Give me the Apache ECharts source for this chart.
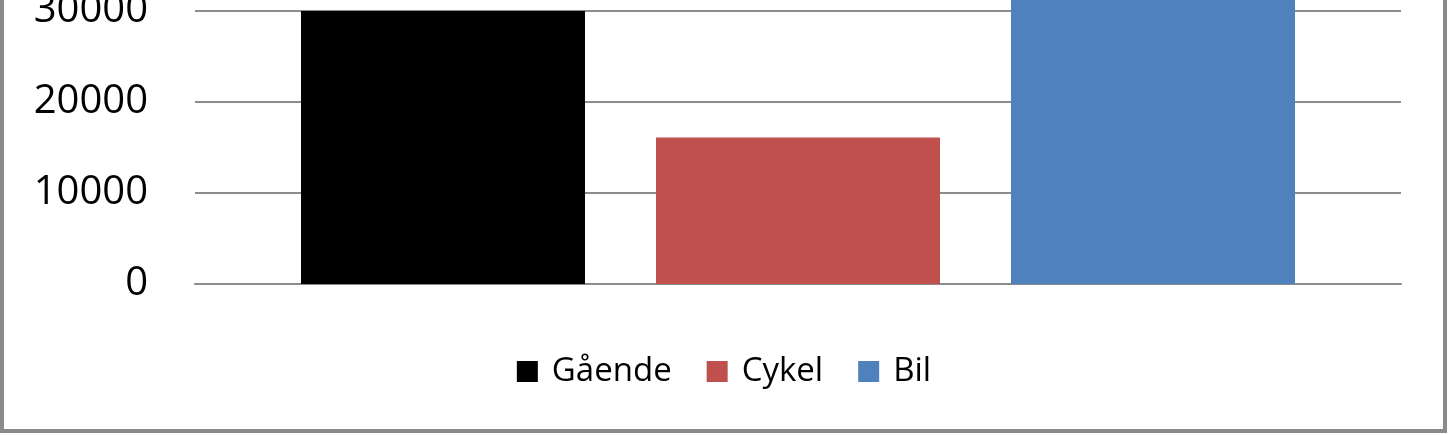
<!DOCTYPE html>
<html>
<head>
<meta charset="utf-8">
<script src="https://cdn.jsdelivr.net/npm/echarts@6/dist/echarts.min.js"></script>
<style>
  html, body { margin: 0; padding: 0; background: #ffffff; overflow: hidden; }
  #wrap { position: relative; width: 1448px; height: 435px; overflow: hidden; }
  #chart { position: absolute; left: 0; top: -100px; width: 1448px; height: 535px; }
  #frame { position: absolute; left: 0; top: -20px; width: 1447px; height: 453px; box-sizing: border-box;
           border: 4px solid #8a8a8a; pointer-events: none; }
</style>
</head>
<body>
<div id="wrap">
  <div id="chart"></div>
  <div id="frame"></div>
</div>
<script>
const categories = [''];
const seriesNames = ['Gående', 'Cykel', 'Bil'];
const seriesValues = [[30000], [16100], [35000]];
const seriesColors = ['#000000', '#C0504D', '#4F81BD'];
const yTicks = { min: 0, max: 40000, interval: 10000 };

const chart = echarts.init(document.getElementById('chart'), null, { renderer: 'canvas' });
const font = '"Open Sans", "Noto Sans", sans-serif';

chart.setOption({
  animation: false,
  backgroundColor: 'transparent',
  grid: { left: 195, right: 47, top: 18, bottom: 151, containLabel: false },
  legend: {
    data: seriesNames,
    left: 'center',
    top: 450,
    itemWidth: 21,
    itemHeight: 21,
    itemGap: 35,
    icon: 'rect',
    textStyle: { fontFamily: font, fontSize: 33, color: '#000', padding: [0, 0, 0, 9] }
  },
  xAxis: {
    type: 'category',
    data: categories,
    axisLine: { show: true, lineStyle: { color: '#8c8c8c', width: 2 } },
    axisTick: { show: false },
    axisLabel: { show: false }
  },
  yAxis: {
    type: 'value',
    min: yTicks.min,
    max: yTicks.max,
    interval: yTicks.interval,
    axisLine: { show: false },
    axisTick: { show: false },
    axisLabel: { fontFamily: font, fontSize: 40, color: '#000', margin: 47, formatter: v => String(v) },
    splitLine: { lineStyle: { color: '#8c8c8c', width: 2 } }
  },
  series: seriesNames.map((name, i) => ({
    name: name,
    type: 'bar',
    data: seriesValues[i],
    barWidth: 284,
    barGap: '25%',
    itemStyle: { color: seriesColors[i] }
  }))
});
</script>
</body>
</html>
